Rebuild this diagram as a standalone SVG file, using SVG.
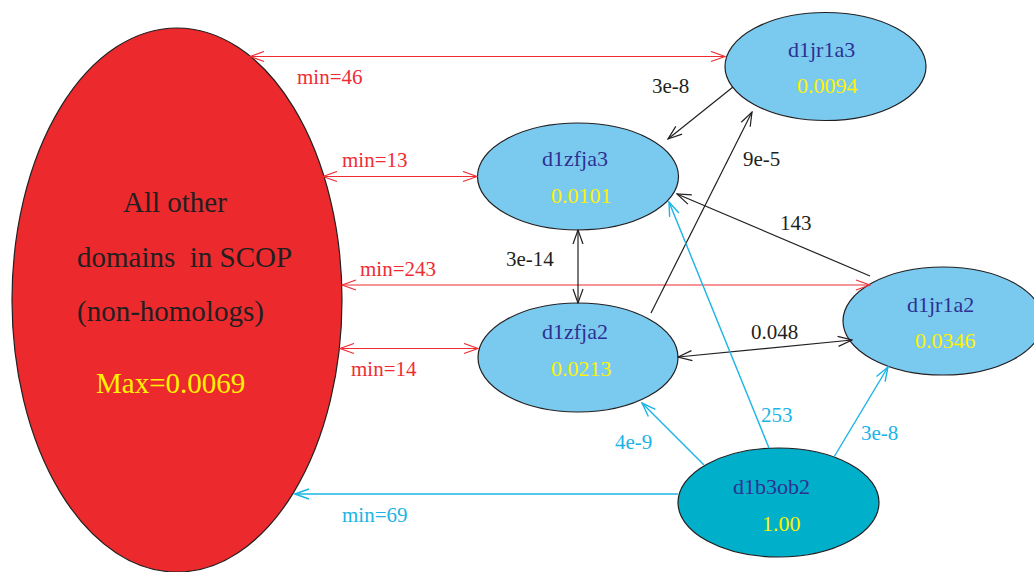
<svg xmlns="http://www.w3.org/2000/svg" width="1034" height="572" viewBox="0 0 1034 572" font-family="'Liberation Serif', 'Times New Roman', Times, 'DejaVu Serif', serif">
<style>
text{font-family:'Liberation Serif','Times New Roman',Times,'DejaVu Serif',serif}
.big{font-size:29px}
.nd{font-size:22px}
.el{font-size:21px}
.nm{fill:#2E3192}
.val{fill:#FFF200}
.node{fill:#7ACAF0;stroke:#231F20;stroke-width:1.2}
.rd{stroke:#EE2D33;stroke-width:1.2;fill:none}
.bk{stroke:#231F20;stroke-width:1.2;fill:none}
.cy{stroke:#1AB4E6;stroke-width:1.4;fill:none}
.tr{fill:#EE2D33}
.tb{fill:#231F20}
.tc{fill:#1AB4E6}
</style>
<defs>
<marker id="ar" viewBox="0 0 16 12" markerWidth="16" markerHeight="12" refX="15" refY="6" orient="auto-start-reverse" markerUnits="userSpaceOnUse"><path d="M1,1 L15,6 L1,11" fill="none" stroke="#EE2D33" stroke-width="1.2"/></marker>
<marker id="ab" viewBox="0 0 16 12" markerWidth="16" markerHeight="12" refX="15" refY="6" orient="auto-start-reverse" markerUnits="userSpaceOnUse"><path d="M1,1 L15,6 L1,11" fill="none" stroke="#231F20" stroke-width="1.2"/></marker>
<marker id="ac" viewBox="0 0 16 12" markerWidth="16" markerHeight="12" refX="15" refY="6" orient="auto-start-reverse" markerUnits="userSpaceOnUse"><path d="M1,1 L15,6 L1,11" fill="none" stroke="#1AB4E6" stroke-width="1.4"/></marker>
</defs>
<rect width="1034" height="572" fill="#FFFFFF"/>

<g id="others">
<ellipse cx="177" cy="300" rx="165" ry="272" fill="#EC2A2E" stroke="#231F20" stroke-width="1.2"/>
<text class="big" x="123" y="212" fill="#231F20">All other</text>
<text class="big" x="77" y="267" fill="#231F20" xml:space="preserve">domains  in SCOP</text>
<text class="big" x="77" y="321" fill="#231F20">(non-homologs)</text>
<text class="big" x="96" y="393" fill="#FFF200">Max=0.0069</text>
</g>

<g id="d1jr1a3">
<ellipse class="node" cx="825.5" cy="66.5" rx="100.5" ry="54"/>
<text class="nd nm" x="788" y="57">d1jr1a3</text>
<text class="nd val" x="797" y="93">0.0094</text>
</g>

<g id="d1zfja3">
<ellipse class="node" cx="578" cy="176.5" rx="100.5" ry="53.5"/>
<text class="nd nm" x="542" y="166">d1zfja3</text>
<text class="nd val" x="551" y="203">0.0101</text>
</g>

<g id="d1zfja2">
<ellipse class="node" cx="578" cy="357.5" rx="100" ry="54.5"/>
<text class="nd nm" x="542" y="339">d1zfja2</text>
<text class="nd val" x="551" y="376">0.0213</text>
</g>

<g id="d1jr1a2">
<ellipse class="node" cx="943" cy="321" rx="100" ry="54"/>
<text class="nd nm" x="907" y="312">d1jr1a2</text>
<text class="nd val" x="915" y="348">0.0346</text>
</g>

<g id="d1b3ob2">
<ellipse cx="778.5" cy="502.5" rx="100.5" ry="54.5" fill="#00AFCA" stroke="#231F20" stroke-width="1.2"/>
<text class="nd nm" x="733" y="494">d1b3ob2</text>
<text class="nd val" x="762" y="531">1.00</text>
</g>

<g id="connectors">
<path class="rd" d="M250,56.5 L725,56.5" marker-start="url(#ar)" marker-end="url(#ar)"/>
<path class="rd" d="M323,176.5 L477,176.5" marker-start="url(#ar)" marker-end="url(#ar)"/>
<path class="rd" d="M342,285 L870,285" marker-start="url(#ar)" marker-end="url(#ar)"/>
<path class="rd" d="M340,348.5 L478,348.5" marker-start="url(#ar)" marker-end="url(#ar)"/>

<path class="bk" d="M733,87 L668,139" marker-end="url(#ab)"/>
<path class="bk" d="M651,313 L752,112" marker-end="url(#ab)"/>
<path class="bk" d="M870,276 L677,194" marker-end="url(#ab)"/>
<path class="bk" d="M578,230 L578,303" marker-start="url(#ab)" marker-end="url(#ab)"/>
<path class="bk" d="M678,357 L852,340" marker-start="url(#ab)" marker-end="url(#ab)"/>

<path class="cy" d="M704,465 L642,403" marker-end="url(#ac)"/>
<path class="cy" d="M769,448 L669,202" marker-end="url(#ac)"/>
<path class="cy" d="M834,457 L888,367" marker-end="url(#ac)"/>
<path class="cy" d="M678,494 L295,494" marker-end="url(#ac)"/>

<text class="el tr" x="297" y="84">min=46</text>
<text class="el tr" x="342" y="167">min=13</text>
<text class="el tr" x="360" y="276">min=243</text>
<text class="el tr" x="351" y="376">min=14</text>
<text class="el tb" x="652" y="93">3e-8</text>
<text class="el tb" x="743" y="166">9e-5</text>
<text class="el tb" x="780" y="230">143</text>
<text class="el tb" x="506" y="266">3e-14</text>
<text class="el tb" x="751" y="339">0.048</text>
<text class="el tc" x="761" y="422">253</text>
<text class="el tc" x="861" y="440">3e-8</text>
<text class="el tc" x="615" y="449">4e-9</text>
<text class="el tc" x="342" y="522">min=69</text>
</g>
</svg>
